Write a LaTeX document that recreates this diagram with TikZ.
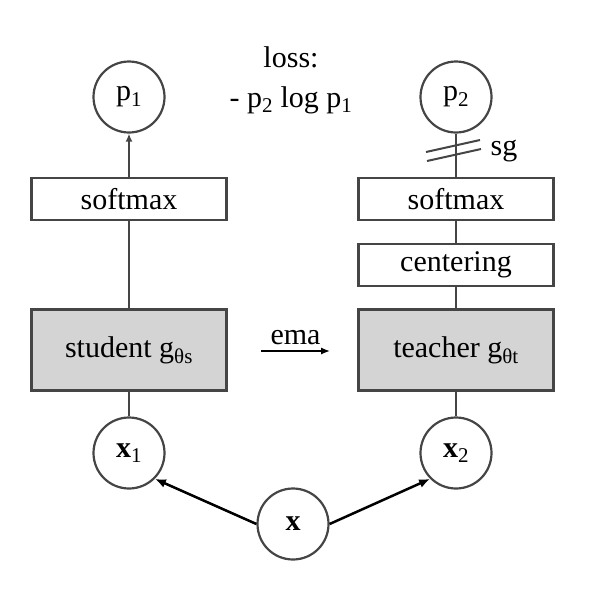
\documentclass[tikz,border=0pt]{standalone}
\usepackage{fontspec}
\setmainfont{Liberation Serif}
\usetikzlibrary{arrows.meta,calc}
\definecolor{linegray}{HTML}{454545}
\definecolor{netgray}{HTML}{D4D4D4}
\tikzset{
	box/.style={draw=linegray,line width=2.2pt,minimum width=195pt,minimum height=42pt,inner sep=0pt},
	net/.style={box,fill=netgray,minimum height=81pt},
	var/.style={circle,draw=linegray,line width=2.2pt,minimum size=71pt,inner sep=0pt},
	link/.style={draw=linegray,line width=2pt},
}
\begin{document}
\begin{tikzpicture}[x=1pt,y=-1pt,font=\fontsize{30}{40}\selectfont]
		\useasboundingbox (0,0) rectangle (600,592);
		\node[var] (p1) at (129,97) {p\textsubscript{1}};
		\node[var] (p2) at (456,97) {p\textsubscript{2}};
		\node[box] (sm1) at (129,199) {softmax};
		\node[box] (sm2) at (456,199) {softmax};
		\node[box] (ctr) at (456,265) {centering};
		\node[net] (stu) at (129,350) {student g\textsubscript{θs}};
		\node[net] (tea) at (456,350) {teacher g\textsubscript{θt}};
		\node[var] (x1) at (129,453) {\textbf{x}\textsubscript{1}};
		\node[var] (x2) at (456,453) {\textbf{x}\textsubscript{2}};
		\node[var] (x) at (293,524) {\textbf{x}};
		\node[align=center] (loss) at (291,80) {loss:\\- p\textsubscript{2} log p\textsubscript{1}};
		% student side
		\draw[link] (x1) -- (stu);
		\draw[link] (stu) -- (sm1);
		\draw[link,-{Latex[length=8pt,width=7pt]}] (sm1) -- (p1);
		% teacher side
		\draw[link] (x2) -- (tea);
		\draw[link] (tea) -- (ctr);
		\draw[link] (ctr) -- (sm2);
		\draw[link] (sm2) -- (p2);
		\coordinate (sg) at (455,150);
		\draw[link] ($(sg)+(-29,2)$) -- ++(54,-12);
		\draw[link] ($(sg)+(-28,11)$) -- ++(54,-12);
		\node[anchor=base] (sglabel) at (504,155) {sg};
		% ema
		\coordinate (emaL) at (261,351);
		\coordinate (emaR) at (330,351);
		\draw[line width=1.3pt,-{Latex[length=9pt,width=7pt]}] (emaL) -- node[above,inner sep=6pt] {ema} (emaR);
		% views
		\draw[line width=2.5pt,-{Latex[length=11pt,width=9pt]}] (x.west) -- (x1.south east);
		\draw[line width=2.5pt,-{Latex[length=11pt,width=9pt]}] (x.east) -- (x2.south west);
	\end{tikzpicture}
\end{document}
